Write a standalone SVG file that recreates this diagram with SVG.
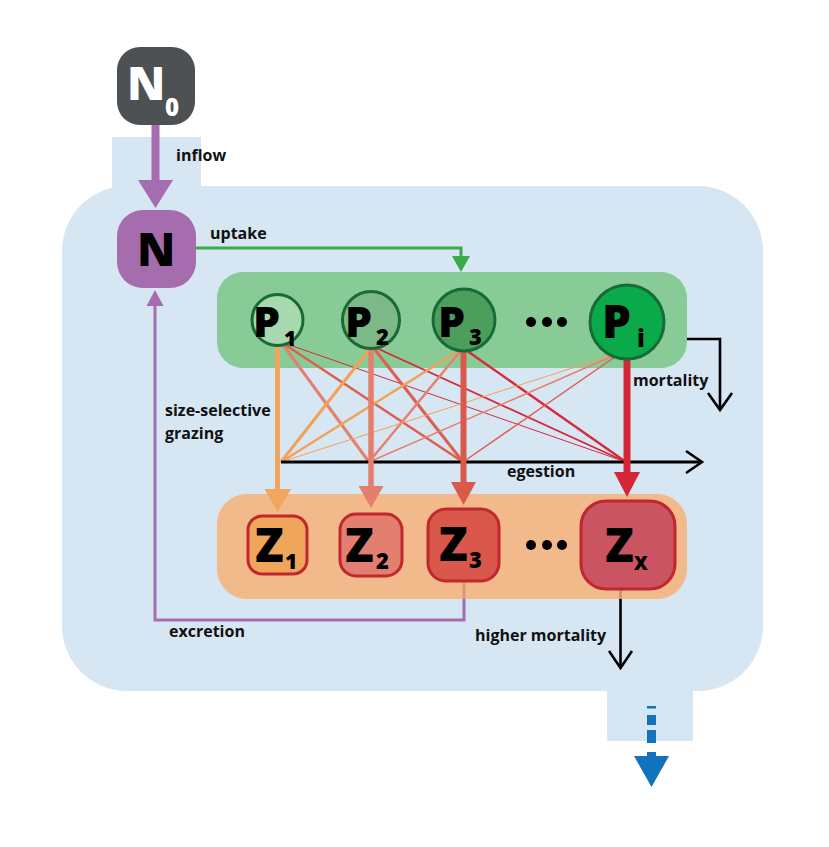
<svg xmlns="http://www.w3.org/2000/svg" width="829" height="847" viewBox="0 0 829 847">
<style>
.lbl{font-family:"Open Sans","Noto Sans","DejaVu Sans",sans-serif;font-weight:700;font-size:16px;fill:#111}
.big{font-family:"Open Sans","Noto Sans","DejaVu Sans",sans-serif;font-weight:800;fill:#000}
.pc{stroke:#176b35;stroke-width:3}
.zr{stroke:#c1272d;stroke-width:3}
.ln{fill:none;stroke-linecap:butt}
.blk{fill:none;stroke:#000;stroke-width:2.6}
</style>
<rect width="829" height="847" fill="#fff"/>
<g id="background" fill="#d7e6f3">
  <rect x="112" y="137" width="89" height="60"/>
  <rect x="607" y="680" width="86" height="61"/>
  <rect x="62" y="186" width="701" height="505" rx="65" ry="65"/>
</g>
<g id="group-P">
  <rect x="217" y="272" width="470" height="96" rx="26" fill="#89cb97"/>
</g>
<g id="group-Z">
  <rect x="217" y="494" width="470" height="105" rx="30" fill="#f2b98a"/>
</g>
<g id="connectors">
  <line x1="155.5" y1="125" x2="155.5" y2="182" stroke="#a56dad" stroke-width="8"/>
  <polygon points="138,180 173,180 155.5,208" fill="#a56dad"/>
  <path d="M196,248 H461 V258" class="ln" stroke="#3aab48" stroke-width="3"/>
  <polygon points="452,256 470,256 461,272" fill="#3aab48"/>
  <line x1="281" y1="342" x2="369" y2="462" stroke="#e5806e" stroke-width="3"/>
  <line x1="281" y1="342" x2="463" y2="462" stroke="#dc5f50" stroke-width="2.5"/>
  <line x1="281" y1="342" x2="626" y2="462" stroke="#d42a3a" stroke-width="1"/>
  <line x1="372" y1="346" x2="281" y2="462" stroke="#f2a158" stroke-width="3"/>
  <line x1="372" y1="346" x2="463" y2="462" stroke="#dc5f50" stroke-width="3"/>
  <line x1="372" y1="346" x2="626" y2="462" stroke="#d42a3a" stroke-width="1.8"/>
  <line x1="463" y1="348" x2="281" y2="462" stroke="#f2a158" stroke-width="2.5"/>
  <line x1="463" y1="348" x2="369" y2="462" stroke="#e5806e" stroke-width="2.5"/>
  <line x1="463" y1="348" x2="626" y2="462" stroke="#d42a3a" stroke-width="2.4"/>
  <line x1="622" y1="352" x2="281" y2="462" stroke="#f2a158" stroke-width="1"/>
  <line x1="622" y1="352" x2="369" y2="462" stroke="#e5806e" stroke-width="1.5"/>
  <line x1="622" y1="352" x2="463" y2="462" stroke="#dc5f50" stroke-width="1.5"/>
  <line x1="281" y1="462" x2="702" y2="462" stroke="#000" stroke-width="3"/>
  <path d="M686,451 L702,462 L686,473" class="blk" stroke-width="3"/>
  <line x1="277.5" y1="340" x2="277.5" y2="490" stroke="#f2a55c" stroke-width="5"/>
  <polygon points="264.5,489 291,489 277.5,512" fill="#f2a55c"/>
  <line x1="371" y1="345" x2="371" y2="487" stroke="#e37f6c" stroke-width="5.5"/>
  <polygon points="358.5,486 383.5,486 371,508" fill="#e37f6c"/>
  <line x1="463.5" y1="348" x2="463.5" y2="484" stroke="#d95a4c" stroke-width="6"/>
  <polygon points="451,482 476,482 463.5,505" fill="#d95a4c"/>
  <line x1="627" y1="355" x2="627" y2="474" stroke="#d42636" stroke-width="7"/>
  <polygon points="614,472 640,472 627,497" fill="#d42636"/>
  <path d="M687,339 H720 V409" class="blk"/>
  <path d="M708,393 L720,410 L732,393" class="blk"/>
  <line x1="620.5" y1="589" x2="620.5" y2="599" stroke="#c9906e" stroke-width="2.6"/>
  <line x1="620.5" y1="599" x2="620.5" y2="667" stroke="#000" stroke-width="2.6"/>
  <path d="M609,651 L620.5,668 L632,651" class="blk"/>
  <line x1="464" y1="581" x2="464" y2="599" stroke="#e0937f" stroke-width="3"/>
  <path d="M464,599 V620 H155 V305" class="ln" stroke="#a56dad" stroke-width="3"/>
  <polygon points="146.5,306 163.5,306 155,290" fill="#a56dad"/>
  <g fill="#1273bd">
    <rect x="647" y="706" width="9" height="2.5"/>
    <rect x="647" y="715" width="9" height="10"/>
    <rect x="647" y="730" width="9" height="13"/>
    <rect x="647" y="752" width="9" height="5"/>
    <polygon points="634,756 669,756 651.5,787"/>
  </g>
</g>
<g id="labels">
  <text class="lbl" x="176" y="161">inflow</text>
  <text class="lbl" x="210" y="239">uptake</text>
  <text class="lbl" x="165" y="416">size-selective</text>
  <text class="lbl" x="165" y="439">grazing</text>
  <text class="lbl" x="507" y="477">egestion</text>
  <text class="lbl" x="633" y="386">mortality</text>
  <text class="lbl" x="169" y="637">excretion</text>
  <text class="lbl" x="475" y="641">higher mortality</text>
</g>
<g id="node-N0">
  <rect x="117" y="47" width="78" height="78" rx="23" fill="#4d5153"/>
  <text class="big" font-size="46" style="fill:#fff"><tspan x="127" y="100">N</tspan><tspan x="165" y="116" font-size="24">0</tspan></text>
</g>
<g id="node-N">
  <rect x="117" y="210" width="79" height="78" rx="26" fill="#a56dad"/>
  <text class="big" x="137" y="266" font-size="46">N</text>
</g>
<g id="node-P1">
  <circle cx="277.5" cy="320" r="25.5" fill="#a8d8ae" class="pc"/>
  <text class="big" font-size="43"><tspan x="253" y="337">P</tspan><tspan x="284" y="346" font-size="21">1</tspan></text>
</g>
<g id="node-P2">
  <circle cx="371" cy="320" r="28.5" fill="#7db987" class="pc"/>
  <text class="big" font-size="43"><tspan x="345" y="337">P</tspan><tspan x="376" y="345" font-size="22">2</tspan></text>
</g>
<g id="node-P3">
  <circle cx="464" cy="320" r="31" fill="#4b9e5c" class="pc"/>
  <text class="big" font-size="43"><tspan x="438" y="337">P</tspan><tspan x="469" y="345" font-size="22">3</tspan></text>
</g>
<g id="node-Pdots" fill="#000">
  <circle cx="531" cy="322" r="5"/>
  <circle cx="547" cy="322" r="5"/>
  <circle cx="562" cy="322" r="5"/>
</g>
<g id="node-Pi">
  <circle cx="627" cy="322" r="37" fill="#0aa94a" class="pc"/>
  <text class="big" font-size="46"><tspan x="602" y="338">P</tspan><tspan x="637" y="347" font-size="24">i</tspan></text>
</g>
<g id="node-Z1">
  <rect x="248" y="516" width="59" height="58" rx="14" fill="#f0a55c" class="zr"/>
  <text class="big" font-size="47"><tspan x="255" y="562">Z</tspan><tspan x="285" y="569" font-size="21">1</tspan></text>
</g>
<g id="node-Z2">
  <rect x="340" y="514" width="62" height="62" rx="16" fill="#e37f70" class="zr"/>
  <text class="big" font-size="47"><tspan x="345" y="562">Z</tspan><tspan x="376" y="569" font-size="22">2</tspan></text>
</g>
<g id="node-Z3">
  <rect x="428" y="509" width="71" height="72" rx="18" fill="#d9574b" class="zr"/>
  <text class="big" font-size="47"><tspan x="439" y="561">Z</tspan><tspan x="469" y="568" font-size="22">3</tspan></text>
</g>
<g id="node-Zdots" fill="#000">
  <circle cx="531" cy="545" r="5"/>
  <circle cx="547" cy="545" r="5"/>
  <circle cx="562" cy="545" r="5"/>
</g>
<g id="node-Zx">
  <rect x="581" y="501" width="94" height="88" rx="25" fill="#cb5462" class="zr"/>
  <text class="big" font-size="47"><tspan x="605" y="562">Z</tspan><tspan x="634" y="570" font-size="19">X</tspan></text>
</g>
</svg>
